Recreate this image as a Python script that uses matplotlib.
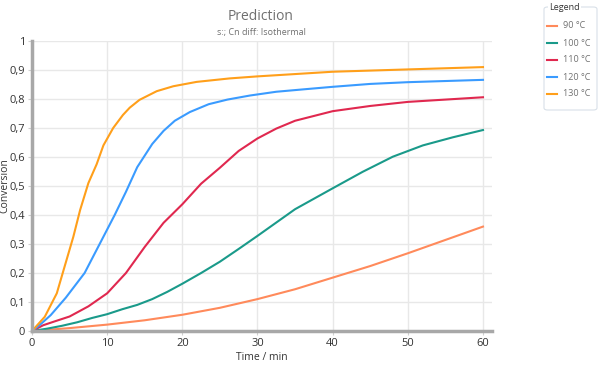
import matplotlib
matplotlib.use("Agg")
import matplotlib.pyplot as plt
from matplotlib.ticker import FuncFormatter, MultipleLocator
from matplotlib.lines import Line2D
from matplotlib.patches import FancyBboxPatch

plt.rcParams['font.family'] = ['Open Sans', 'DejaVu Sans']

t90 = [0, 5, 10, 15, 20, 25, 30, 35, 40, 45, 50, 55, 60]
v90 = [0, 0.01, 0.022, 0.037, 0.056, 0.08, 0.11, 0.144, 0.184, 0.224, 0.268, 0.314, 0.36]

t100 = [0, 2, 4, 6, 8, 10, 12, 14, 16, 18, 20, 22.5, 25, 27.5, 30, 35, 40, 44, 48, 52, 56, 60]
v100 = [0, 0.008, 0.018, 0.03, 0.045, 0.058, 0.075, 0.09, 0.11, 0.135, 0.163, 0.2, 0.239,
        0.283, 0.328, 0.42, 0.492, 0.549, 0.601, 0.64, 0.668, 0.693]

t110 = [0, 1.5, 3, 5, 7.5, 10, 12.5, 15, 17.5, 20, 22.5, 25, 27.5, 30, 32.5, 35, 40, 45, 50, 55, 60]
v110 = [0, 0.02, 0.033, 0.05, 0.085, 0.13, 0.2, 0.29, 0.373, 0.437, 0.508, 0.563, 0.621,
        0.664, 0.698, 0.725, 0.758, 0.776, 0.79, 0.798, 0.806]

t120 = [0, 1, 2.5, 4.5, 7, 9, 11, 12.5, 14, 16, 17.5, 19, 21, 23.5, 26, 29, 32.5, 36, 40, 45, 50, 55, 60]
v120 = [0, 0.02, 0.055, 0.115, 0.2, 0.3, 0.4, 0.48, 0.565, 0.645, 0.69, 0.725, 0.755, 0.782,
        0.798, 0.812, 0.825, 0.833, 0.842, 0.852, 0.858, 0.862, 0.866]

t130 = [0, 1.7, 3.3, 4.2, 5.5, 6.4, 7.5, 8.6, 9.5, 10.8, 12.1, 13, 14.3, 16.6, 18.8, 21.9,
        26.3, 30, 35, 40, 45, 50, 55, 60]
v130 = [0, 0.049, 0.13, 0.21, 0.325, 0.417, 0.51, 0.575, 0.64, 0.7, 0.745, 0.77, 0.797,
        0.827, 0.844, 0.859, 0.871, 0.878, 0.886, 0.894, 0.898, 0.902, 0.906, 0.91]

labels = ['90 °C', '100 °C', '110 °C', '120 °C', '130 °C']
colors = ['#FF8A5B', '#1A9A8A', '#E0284F', '#3A9BFF', '#FF9F1A']
series = [(t90, v90), (t100, v100), (t110, v110), (t120, v120), (t130, v130)]

x_ticks = [0, 10, 20, 30, 40, 50, 60]

W, H = 600, 366
fig = plt.figure(figsize=(6, 3.66), dpi=100)
ax = fig.add_axes([32 / W, 1 - 331 / H, (492 - 32) / W, (331 - 41) / H])

for (t, v), c, lab in zip(series, colors, labels):
    ax.plot(t, v, color=c, lw=1.5, label=lab, solid_joinstyle='round')

ax.set_xlim(0, 61.2)
ax.set_ylim(0, 1)
ax.set_xticks(x_ticks)
ax.yaxis.set_major_locator(MultipleLocator(0.1))
ax.yaxis.set_major_formatter(FuncFormatter(
    lambda v, p: ('%g' % round(v, 1)).replace('.', ',')))
ax.grid(True, color='#e8e8e8', lw=1)
ax.set_axisbelow(True)
for s in ['top', 'right']:
    ax.spines[s].set_visible(False)
for s in ['left', 'bottom']:
    ax.spines[s].set_color('#a8a8a8')
    ax.spines[s].set_linewidth(2.5)
ax.tick_params(length=3, color='#d0d0d0', labelsize=8, labelcolor='#333333', pad=2)

ax.set_xlabel('Time / min', fontsize=7.5, color='#333333', labelpad=2)
ax.set_ylabel('Conversion', fontsize=7.5, color='#333333')
ax.yaxis.set_label_coords((10 - 32) / 460, 0.5)

fig.text(261 / W, 1 - 16 / H, 'Prediction', ha='center', va='center',
         fontsize=10, color='#707070')
fig.text(261 / W, 1 - 33 / H, 's:; Cn diff: Isothermal', ha='center', va='center',
         fontsize=6.5, color='#707070')

# legend box drawn manually
lx0, lx1, ly0, ly1 = 544, 597, 7, 110
frame = FancyBboxPatch((lx0 / W, 1 - ly1 / H), (lx1 - lx0) / W, (ly1 - ly0) / H,
                       boxstyle='round,pad=0,rounding_size=0.006',
                       transform=fig.transFigure, facecolor='white',
                       edgecolor='#d8e0e8', lw=0.8)
fig.patches.append(frame)
fig.text(549 / W, 1 - 7 / H, 'Legend', ha='left', va='center', fontsize=6.5,
         color='#333333', bbox=dict(facecolor='white', edgecolor='none', pad=0.8))
item_y = [26, 43, 60, 77, 94]
for yy, c, lab in zip(item_y, colors, labels):
    fig.add_artist(Line2D([547 / W, 557 / W], [1 - yy / H, 1 - yy / H],
                          transform=fig.transFigure, color=c, lw=1.5))
    fig.text(563 / W, 1 - yy / H, lab, ha='left', va='center', fontsize=6.5,
             color='#707070')

fig.savefig('out.png', dpi=100)
